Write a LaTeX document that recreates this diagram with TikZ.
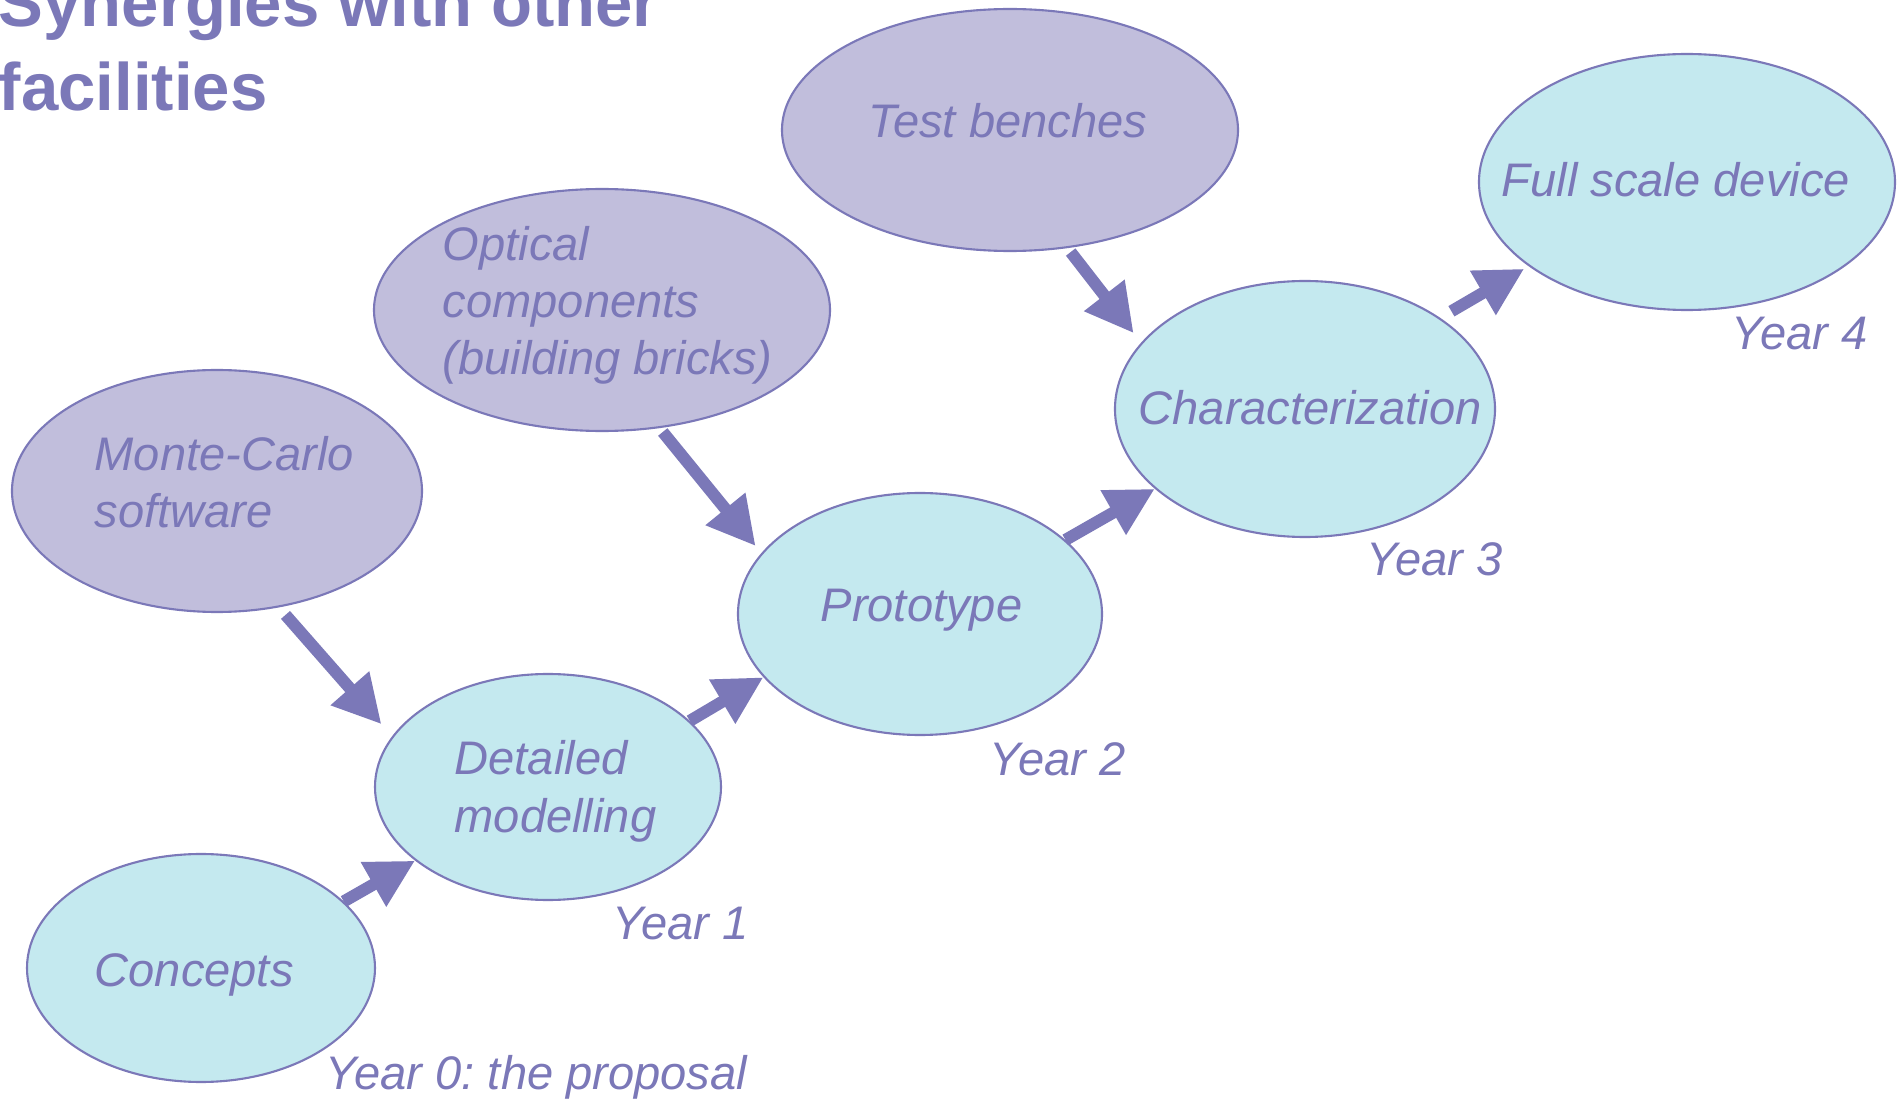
\documentclass[tikz,border=0pt]{standalone}
\usepackage{fontspec}
\setmainfont{Liberation Sans}
\usetikzlibrary{arrows.meta,shapes.geometric}
\definecolor{lilac}{HTML}{7B78B8}
\definecolor{paleblue}{HTML}{C4E9EF}
\definecolor{palelilac}{HTML}{C1BEDC}
\frenchspacing

\begin{document}
\begin{tikzpicture}[
  stage/.style={ellipse,draw=lilac,line width=0.6pt,fill=paleblue,inner sep=0pt},
  facility/.style={stage,fill=palelilac},
  txt/.style={text=lilac,font=\fontsize{13.4}{16.3}\selectfont\itshape,anchor=base west,inner sep=0pt,align=left},
  title/.style={text=lilac,font=\fontsize{19.1}{23.9}\selectfont\bfseries,anchor=base west,inner sep=0pt,align=left},
  push/.style={lilac,line width=1.2mm,-{Triangle[length=4.8mm,width=4.8mm]}}]
\useasboundingbox (0,0) rectangle (18.98,-11);
%title
\node[title] (title) at (-0.02,-1.11) {Synergies with other\\facilities};
%stages of the project
\node[stage,minimum width=3.48cm,minimum height=2.28cm] (concepts) at (2.01,-9.68) {};
\node[stage,minimum width=3.46cm,minimum height=2.26cm] (modelling) at (5.48,-7.87) {};
\node[stage,minimum width=3.64cm,minimum height=2.42cm] (prototype) at (9.20,-6.14) {};
\node[stage,minimum width=3.80cm,minimum height=2.56cm] (charact) at (13.05,-4.09) {};
\node[stage,minimum width=4.16cm,minimum height=2.56cm] (device) at (16.87,-1.82) {};
%other facilities
\node[facility,minimum width=4.10cm,minimum height=2.42cm] (montecarlo) at (2.17,-4.91) {};
\node[facility,minimum width=4.56cm,minimum height=2.42cm] (optical) at (6.02,-3.10) {};
\node[facility,minimum width=4.56cm,minimum height=2.42cm] (benches) at (10.10,-1.30) {};
%texts in the ellipses (base is the last line)
\node[txt] (t-concepts) at (0.94,-9.86) {Concepts};
\node[txt] (t-modelling) at (4.54,-8.32) {Detailed\\modelling};
\node[txt] (t-prototype) at (8.20,-6.21) {Prototype};
\node[txt] (t-charact) at (11.38,-4.24) {Characterization};
\node[txt] (t-device) at (15.01,-1.97) {Full scale device};
\node[txt] (t-montecarlo) at (0.94,-5.28) {Monte-Carlo\\software};
\node[txt] (t-optical) at (4.42,-3.75) {Optical\\components\\(building bricks)};
\node[txt] (t-benches) at (8.68,-1.38) {Test benches};
%years
\node[txt] (y0) at (3.25,-10.89) {Year 0: the proposal};
\node[txt] (y1) at (6.12,-9.39) {Year 1};
\node[txt] (y2) at (9.89,-7.75) {Year 2};
\node[txt] (y3) at (13.66,-5.76) {Year 3};
\node[txt] (y4) at (17.31,-3.50) {Year 4};
%arrows along the stages
\draw[push] (concepts.25) -- (modelling.209);
\draw[push] (modelling.25) -- (prototype.202);
\draw[push] (prototype.27) -- (charact.208);
\draw[push,shorten <=0.13cm,shorten >=0.05cm] (charact.34) -- (device.208);
%arrows from the facilities
\draw[push,shorten <=0.10cm,shorten >=0.16cm] (montecarlo.298) -- (modelling.162);
\draw[push,shorten <=0.05cm,shorten >=0.09cm] (optical.296) -- (prototype.159);
\draw[push,shorten <=0.05cm,shorten >=0.12cm] (benches.296) -- (charact.158);
\end{tikzpicture}
\end{document}
